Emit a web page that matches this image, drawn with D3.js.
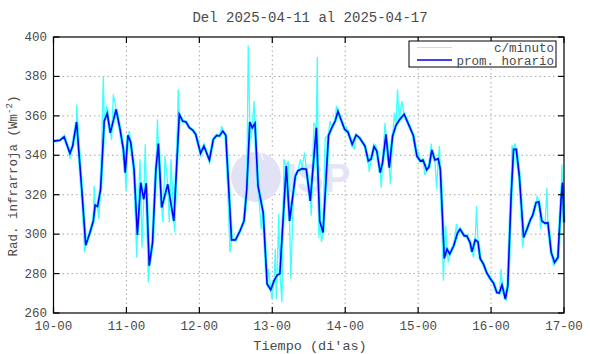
<!DOCTYPE html>
<html><head><meta charset="utf-8">
<script src="https://cdn.jsdelivr.net/npm/d3@7"></script>
<style>body{margin:0;background:#fff}svg{display:block}text{font-family:"Liberation Mono","DejaVu Sans Mono",monospace}</style>
</head><body>
<script>
// ---- data (hours since 10-00, W m^-2) ----
const titleText = "Del 2025-04-11 al 2025-04-17";
const xTickLabels = ["10-00","11-00","12-00","13-00","14-00","15-00","16-00","17-00"];
const yTicks = [260,280,300,320,340,360,380,400];
// hourly average (prom. horario) vertices
const hourT = [0,2.1,3.5,5.4,6.3,7.6,9.3,10.6,12.0,13.1,
13.7,14.5,15.5,16.7,17.7,18.7,20.6,21.9,23.0,23.6,
24.5,25.4,26.5,27.6,28.7,29.7,30.5,31.5,32.6,33.7,
34.5,35.6,37.6,39.6,41.4,42.5,43.6,44.7,45.8,46.8,
48.4,49.5,51.3,52.6,53.7,54.6,55.7,56.7,58.6,59.9,
61.4,62.7,63.6,64.6,65.4,66.3,67.3,69.0,70.3,71.5,
72.6,73.6,74.5,76.6,77.7,79.6,80.4,81.8,83.2,84.5,
86.5,87.6,88.7,90.5,91.6,92.7,93.6,95.8,96.9,98.3,
99.6,100.7,102.5,103.6,104.5,105.5,106.4,107.5,108.3,109.4,
110.5,111.6,112.7,113.8,115.4,117.1,118.4,119.6,120.7,121.6,
122.8,123.6,124.5,125.5,126.6,127.3,128.6,129.5,130.4,131.7,
133.0,133.8,135.2,136.0,137.1,137.7,138.8,139.7,140.4,141.5,
142.6,143.7,144.8,145.9,146.7,147.6,148.7,149.5,150.6,151.4,
152.3,153.3,154.7,155.8,156.9,157.7,158.8,159.7,160.7,161.8,
162.7,163.8,164.9,166.0,167.1,167.5,168];
const hourV = [347.2,347.6,349.4,341,344.7,356.9,322.8,294.4,300.8,306.7,
314.7,314,322.8,357.4,361.3,351.4,363.3,353.2,343,331.2,
350.1,346.7,332.9,299.6,326.1,317.7,325.8,284,295.7,332.9,
346,313.5,325.3,306.7,360.8,357.4,356.9,354,352.8,350.6,
341,344.7,337.6,348.1,350.1,349.8,352.3,350.1,297.1,297.1,
301.7,306.7,322.8,356.9,354,356.2,324.5,310.9,274.7,271.8,
276.4,279.2,279.9,334.6,306.7,329.5,332.1,333.2,332.9,316.9,
354,306.7,300.8,350.1,354,357.4,362.3,353.2,351.8,345.6,
350.3,348.9,344.7,337.1,338,344.4,342.2,331.2,336.3,350.6,
333.7,349.8,355.2,357.9,360.8,354.8,350.1,339.6,337.1,337.6,
332.6,334.2,342.7,337.6,338.3,332.9,287.7,292.4,289.9,294.1,
300.8,302.5,299.1,299.1,295.7,291,297.1,296.1,287.7,284.8,
280.3,277.5,275.2,270.4,270.1,274.2,267.1,273.8,319.4,343,
343,329.5,298.3,302.5,307.2,309.6,316,316.4,306.7,305.5,
305.8,290.7,285.6,288.2,319.4,326.1,306];
// per-minute excursions (c/minuto) read where they leave the hourly line
const minT = [5.43,7.63,10.27,13.4,14.9,16.39,17.5,19.1,19.68,20.3,
23.85,25.0,27.37,28.46,29.12,30.2,31.2,34.2,36.0,36.69,
38.1,38.66,39.9,41.06,55.4,58.07,64.09,64.98,66.0,68.37,
70.8,71.9,73.0,73.3,74.1,75.18,75.84,77.3,78.1,79.1,
81.3,82.6,84.82,85.7,86.8,87.3,88.2,89.4,91.0,93.1,
96.4,99.0,103.9,106.0,107.9,109.1,110.9,112.2,113.2,114.6,
120.1,122.2,124.3,126.1,127.0,128.3,129.1,129.9,132.6,138.2,
139.2,147.3,149.0,150.9,151.9,154.4,159.2,160.3,162.4,163.2,
164.5,167.3];
const minV = [338.3,365.8,290.7,324.5,307.9,380.2,365,347.7,370.9,365.8,
321.9,352.3,288.2,338,293.2,345.6,275.5,358.2,305.9,339.6,
305.9,338,300.8,373.4,354.8,290.7,395.7,348.1,367.5,302.5,
282.3,267.1,292.4,267.1,310.1,265.4,338,337.1,277.2,327.8,
338,341.4,309.3,356.5,389.9,298,296,348.9,357.4,365,
354.5,343,331.5,345.6,323.6,356.5,325.3,361.6,373.4,367.5,
341.7,330,346,322.8,344.7,276.4,304.2,285.6,305.1,288.2,
314.3,282.3,266.2,345.1,346.1,293.2,319.4,302.5,323.6,297.5,
284,335.4];

// ---- layout ----
const W = 590, H = 354;
const L = 53.5, R = 564, T = 37, B = 313;
const svg = d3.select("body").append("svg").attr("width", W).attr("height", H);
const x = d3.scaleLinear().domain([0, 168]).range([L, R]);
const y = d3.scaleLinear().domain([260, 400]).range([B, T]);
const txt = "#4a4a4a";

// grid
const g = svg.append("g");
g.selectAll("line.gx").data(d3.range(1, 7)).join("line")
  .attr("x1", d => x(d*24)).attr("x2", d => x(d*24)).attr("y1", T).attr("y2", B)
  .attr("stroke", "#a8a8a8").attr("stroke-dasharray", "1.5,3").attr("stroke-width", 1);
g.selectAll("line.gy").data(yTicks.slice(1, -1)).join("line")
  .attr("x1", L).attr("x2", R).attr("y1", d => y(d)).attr("y2", d => y(d))
  .attr("stroke", "#a8a8a8").attr("stroke-dasharray", "1.5,3").attr("stroke-width", 1);

// watermark
const wm = svg.append("g");
wm.append("circle").attr("cx", 256).attr("cy", 177).attr("r", 25).attr("fill", "#e2e2f7");
[[-12, 30], [-3, 34], [6, 38]].forEach(([dx, r]) => {
  wm.append("path").attr("d", d3.arc()({innerRadius: r - 1.2, outerRadius: r, startAngle: -0.2, endAngle: 1.4}))
    .attr("transform", `translate(${256 + dx - 10},${177 - 12})`).attr("fill", "#fff");
});
wm.append("text").attr("x", 286).attr("y", 192).text("ISP")
  .style("font-family", "Arial, 'Liberation Sans', sans-serif").style("font-weight", "bold")
  .style("font-size", "40px").attr("fill", "#e4e4f7");

// series
const hourly = hourT.map((t, i) => [t, hourV[i]]);
const minute = hourly.concat(minT.map((t, i) => [t, minV[i]])).sort((a, b) => a[0] - b[0]);
const line = d3.line().x(d => x(d[0])).y(d => y(d[1]));
svg.append("path").attr("d", line(minute)).attr("fill", "none")
  .attr("stroke", "#40ffff").attr("stroke-width", 1.3).attr("stroke-linejoin", "bevel");
svg.append("path").attr("d", line(hourly)).attr("fill", "none")
  .attr("stroke", "#40ffff").attr("stroke-width", 3.2);
svg.append("path").attr("d", line(hourly)).attr("fill", "none")
  .attr("stroke", "#0000ff").attr("stroke-width", 1.6);

// frame + ticks
svg.append("rect").attr("x", L).attr("y", T).attr("width", R - L).attr("height", B - T)
  .attr("fill", "none").attr("stroke", "#000").attr("stroke-width", 1.2);
const tk = svg.append("g").attr("stroke", "#000").attr("stroke-width", 1.2);
d3.range(0, 8).forEach(d => {
  tk.append("line").attr("x1", x(d*24)).attr("x2", x(d*24)).attr("y1", B).attr("y2", B - 6);
  tk.append("line").attr("x1", x(d*24)).attr("x2", x(d*24)).attr("y1", T).attr("y2", T + 6);
});
yTicks.forEach(v => {
  tk.append("line").attr("x1", L).attr("x2", L + 6).attr("y1", y(v)).attr("y2", y(v));
  tk.append("line").attr("x1", R).attr("x2", R - 6).attr("y1", y(v)).attr("y2", y(v));
});

// tick labels
svg.selectAll("text.xt").data(xTickLabels).join("text")
  .attr("x", (d, i) => x(i*24)).attr("y", 330).attr("text-anchor", "middle")
  .style("font-size", "12.5px").attr("fill", txt).text(d => d);
svg.selectAll("text.yt").data(yTicks).join("text")
  .attr("x", 47).attr("y", d => y(d) + 4).attr("text-anchor", "end")
  .style("font-size", "12.5px").attr("fill", txt).text(d => d);

// titles
svg.append("text").attr("x", 310).attr("y", 22).attr("text-anchor", "middle")
  .style("font-size", "14px").attr("fill", txt).text(titleText);
svg.append("text").attr("x", 310).attr("y", 350).attr("text-anchor", "middle")
  .style("font-size", "13.5px").attr("fill", txt).text("Tiempo (di'as)");
const yl = svg.append("text").attr("transform", "translate(17,176) rotate(-90)")
  .attr("text-anchor", "middle").style("font-size", "12.5px").attr("fill", txt);
yl.append("tspan").text("Rad. infrarroja (Wm");
yl.append("tspan").attr("dy", -5).style("font-size", "9px").text("-2");
yl.append("tspan").attr("dy", 5).text(")");

// legend
const lg = svg.append("g");
lg.append("rect").attr("x", 409).attr("y", 41).attr("width", 147).attr("height", 26)
  .attr("fill", "#fff").attr("stroke", "#000").attr("stroke-width", 1);
lg.append("line").attr("x1", 417).attr("x2", 452).attr("y1", 47.5).attr("y2", 47.5)
  .attr("stroke", "#80ffff").attr("stroke-width", 1.2);
lg.append("line").attr("x1", 417).attr("x2", 452).attr("y1", 60).attr("y2", 60)
  .attr("stroke", "#0000ff").attr("stroke-width", 1.6);
lg.append("text").attr("x", 554).attr("y", 52).attr("text-anchor", "end")
  .style("font-size", "12.5px").attr("fill", txt).text("c/minuto");
lg.append("text").attr("x", 554).attr("y", 64.5).attr("text-anchor", "end")
  .style("font-size", "12.5px").attr("fill", txt).text("prom. horario");
</script>
</body></html>
